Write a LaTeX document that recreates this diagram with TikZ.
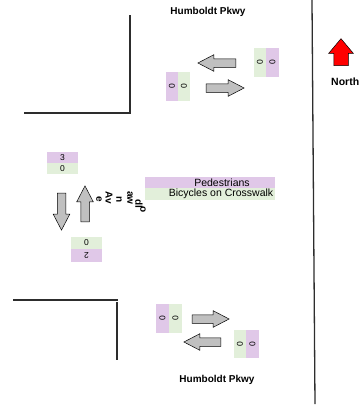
\documentclass[tikz,border=0pt]{standalone}
\usepackage{fontspec}
\setmainfont{Liberation Sans}
\usetikzlibrary{shapes.arrows}
\definecolor{purp}{RGB}{224,200,232}
\definecolor{grn}{RGB}{226,239,218}
\definecolor{agray}{RGB}{192,192,192}
\definecolor{curb}{RGB}{45,45,45}
\begin{document}
\begin{tikzpicture}[x=1pt,y=-1pt,
  curbline/.style={draw=curb, line width=1.3pt},
  flowarrow/.style={single arrow, draw=black, fill=agray, line width=0.5pt,
    minimum height=38pt, inner xsep=0pt, inner ysep=4pt,
    single arrow head extend=4pt, single arrow tip angle=55},
  northarrow/.style={single arrow, draw=black, fill=red, line width=0.5pt,
    minimum height=27pt, inner xsep=0pt, inner ysep=7pt,
    single arrow head extend=5pt, single arrow tip angle=80},
  pcell/.style={fill=purp, inner sep=0pt, font=\fontsize{8.5}{9}\selectfont},
  gcell/.style={fill=grn, inner sep=0pt, font=\fontsize{8.5}{9}\selectfont},
  lbl/.style={font=\fontsize{10}{12}\selectfont\bfseries, inner sep=0pt},
  legtxt/.style={font=\fontsize{10.5}{12}\selectfont, inner sep=0pt},
  rot/.style={font=\fontsize{10}{11}\selectfont\bfseries, rotate=-90, inner sep=0pt}
]
\useasboundingbox (0,0) rectangle (359,408);

% curb lines
\coordinate (tl1) at (24,113);
\coordinate (tl2) at (130,113);
\coordinate (tl3) at (130,15);
\draw[curbline] (tl1) -- (tl2) -- (tl3);
\coordinate (bl1) at (13,300);
\coordinate (bl2) at (118,300);
\coordinate (bl3) at (117,302);
\coordinate (bl4) at (117,360);
\draw[curbline] (bl1) -- (bl2);
\draw[curbline] (bl3) -- (bl4);
\coordinate (r1) at (312,0);
\coordinate (r2) at (315,404);
\draw[curbline] (r1) -- (r2);

% street labels
\node[lbl] (ht) at (208,12) {Humboldt Pkwy};
\node[lbl] (hb) at (217,380) {Humboldt Pkwy};

% north
\node[northarrow, rotate=90] (na) at (341,56.5) {};
\node[lbl, anchor=west, font=\fontsize{10.5}{12}\selectfont\bfseries] (north) at (331,82) {North};

% flow arrows
\node[flowarrow, rotate=180] (a1) at (221,63) {};
\node[flowarrow] (a2) at (221,88) {};
\node[flowarrow, minimum height=37pt] (a3) at (206.5,319) {};
\node[flowarrow, minimum height=37pt, rotate=180] (a4) at (206.5,342) {};
\node[flowarrow, minimum height=37pt, rotate=-90] (a5) at (61.5,207.5) {};
\node[flowarrow, minimum height=36pt, rotate=90] (a6) at (85,208) {};

% count cells
\node[gcell, minimum width=12pt, minimum height=29pt] (c1) at (260,62.5) {\rotatebox{90}{0}};
\node[pcell, minimum width=13pt, minimum height=29pt] (c2) at (272.5,62.5) {\rotatebox{90}{0}};
\node[pcell, minimum width=12pt, minimum height=29pt] (c3) at (172,86.5) {\rotatebox{90}{0}};
\node[gcell, minimum width=12pt, minimum height=29pt] (c4) at (184,86.5) {\rotatebox{90}{0}};
\node[pcell, minimum width=13pt, minimum height=29pt] (c5) at (162.5,318.5) {\rotatebox{90}{0}};
\node[gcell, minimum width=13pt, minimum height=29pt] (c6) at (175.5,318.5) {\rotatebox{90}{0}};
\node[gcell, minimum width=12pt, minimum height=28pt] (c7) at (240,344) {\rotatebox{90}{0}};
\node[pcell, minimum width=13pt, minimum height=28pt] (c8) at (252.5,344) {\rotatebox{90}{0}};
\node[pcell, minimum width=31pt, minimum height=11pt] (c9) at (62.5,157.5) {3};
\node[gcell, minimum width=31pt, minimum height=11pt] (c10) at (62.5,168.5) {0};
\node[gcell, minimum width=31pt, minimum height=12pt] (c11) at (86.5,243) {0};
\node[pcell, minimum width=31pt, minimum height=13pt] (c12) at (86.5,255.5) {\rotatebox{180}{2}};

% legend
\node[pcell, minimum width=130pt, minimum height=11pt] (ped) at (210,182.5) {};
\node[gcell, minimum width=130pt, minimum height=12pt] (bic) at (210,194) {};
\node[legtxt] (pedt) at ([xshift=12pt]ped.center) {Pedestrians};
\node[legtxt] (bict) at ([xshift=11pt]bic.center) {Bicycles on Crosswalk};

% rotated street name fragments
\node[rot] (s1) at (99,199) {e};
\node[rot] (s2) at (109,198) {Av};
\node[rot] (s3) at (119,200) {n};
\node[rot] (s4) at (130,198) {aw};
\node[rot] (s5) at (139,204) {dl};
\node[rot] (s6) at (143,210) {o};
\end{tikzpicture}
\end{document}
